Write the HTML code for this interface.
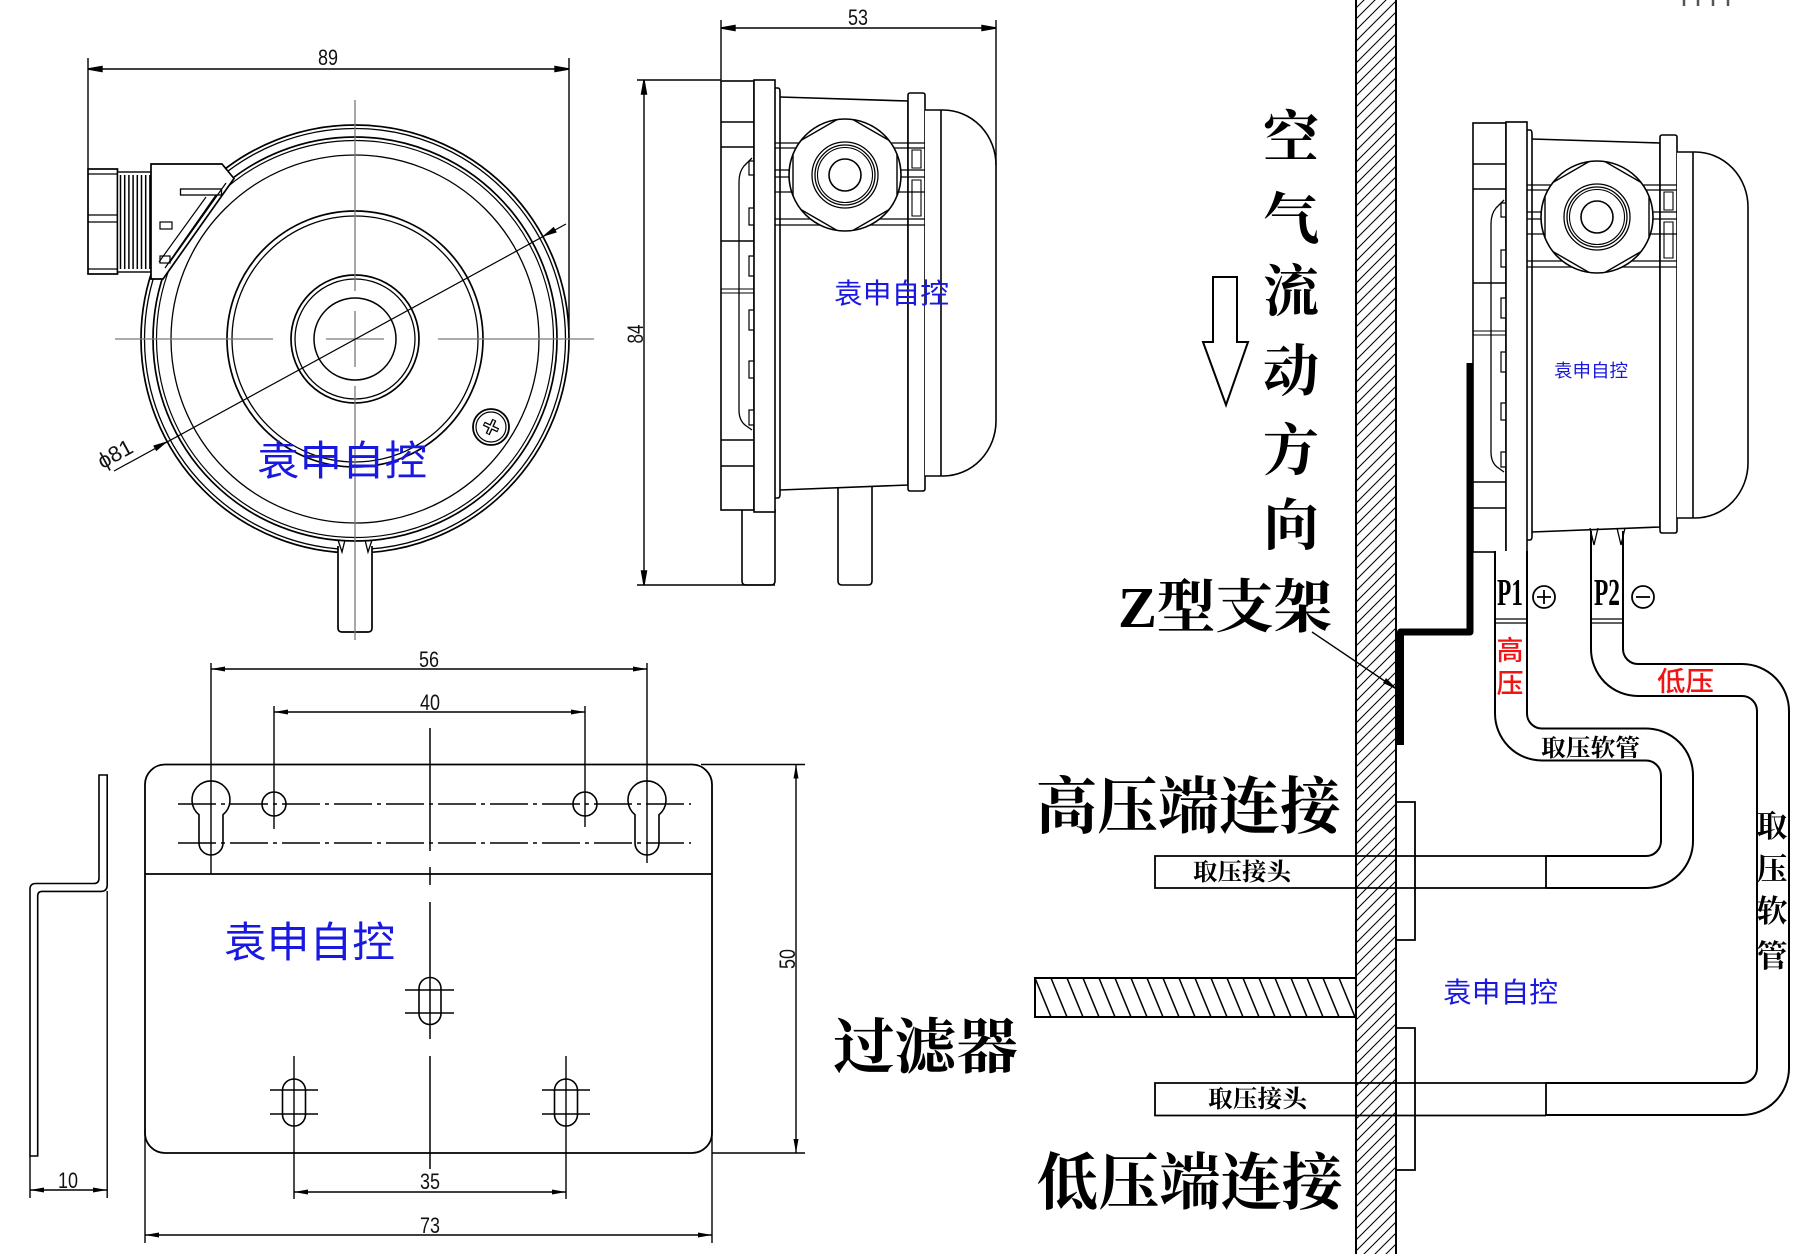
<!DOCTYPE html>
<html><head><meta charset="utf-8">
<style>
html,body{margin:0;padding:0;background:#fff;}
svg{display:block;}
.d{font-family:"Liberation Sans",sans-serif;font-size:22px;fill:#111;}
.big{font-family:"Liberation Serif","Noto Serif CJK SC",serif;font-weight:700;fill:#000;}
.sm{font-family:"Liberation Serif","Noto Serif CJK SC",serif;font-weight:700;fill:#000;}
.wm{font-family:"Liberation Sans","Noto Sans CJK SC",sans-serif;fill:#1818e0;}
.red{font-family:"Liberation Sans","Noto Sans CJK SC",sans-serif;font-weight:500;fill:#f01414;}
</style></head>
<body>
<svg width="1810" height="1254" viewBox="0 0 1810 1254" xmlns="http://www.w3.org/2000/svg">
<defs>
 <pattern id="hw" patternUnits="userSpaceOnUse" width="11" height="11">
  <path d="M0,11 L11,0 M-2,2 L2,-2 M9,13 L13,9" stroke="#000" stroke-width="1.05"/>
 </pattern>
 <pattern id="hf" patternUnits="userSpaceOnUse" x="1035" y="978" width="16" height="39">
  <path d="M0,0 L16,39 M-16,0 L0,39 M16,0 L32,39" stroke="#000" stroke-width="1.5"/>
 </pattern>
 <clipPath id="nutclip"><circle cx="124" cy="95" r="56"/></clipPath>
 <g id="side" fill="none" stroke="#000" stroke-width="1.6">
  <rect x="0" y="1" width="33" height="429" fill="#fff"/>
  <path d="M0,42H33M0,67H33M0,161H33M0,360H33M0,386H33"/>
  <path d="M0,209H33M0,213H33" stroke-width="1.1"/>
  <path d="M31,78 L23,86 Q18,92 18,102 V330 Q18,340 24,345 L31,350" stroke-width="1.3"/>
  <path d="M28,81h5v14h-5zM28,128h5v17h-5zM28,176h5v20h-5zM28,230h5v20h-5zM28,281h5v17h-5zM28,330h5v15h-5z" stroke-width="1.2" fill="#fff"/>
  <rect x="33" y="0" width="21" height="432" fill="#fff"/>
  <path d="M54,8 H57 Q59,8 59,12 V414 Q59,418 57,418 H54"/>
  <path d="M59,17 L187,21 L187,405 L59,410"/>
  <rect x="187" y="13" width="17" height="398" rx="2" fill="#fff"/>
  <path d="M54,63H207M54,68H207M54,90H207M54,97H207M54,112H207M54,139H207M54,145H207" stroke-width="1.3"/>
  <path d="M191,70h9v18h-9zM191,100h9v36h-9z" stroke-width="1.1"/>
  <path d="M204,30 H222 A53,55 0 0 1 275,85 V341 A53,55 0 0 1 222,396 H204" fill="#fff"/>
  <line x1="220" y1="30" x2="220" y2="396"/>
  <circle cx="124" cy="95" r="56" fill="#fff"/>
  <polygon points="124,35 176,65 176,125 124,155 72,125 72,65" clip-path="url(#nutclip)" stroke-width="1.4"/>
  <circle cx="124" cy="95" r="33" stroke-width="1.3"/>
  <circle cx="124" cy="95" r="30" stroke-width="1.3"/>
  <circle cx="124" cy="95" r="27.5" stroke-width="1.1"/>
  <circle cx="124" cy="95" r="16" stroke-width="1.6"/>
 </g>
</defs>

<rect width="1810" height="1254" fill="#fff"/>

<!-- ================= FRONT VIEW ================= -->
<g fill="none" stroke="#000" stroke-width="1.7">
 <circle cx="355" cy="339" r="214"/>
 <circle cx="355" cy="339" r="210.5" stroke-width="1.3"/>
 <circle cx="355" cy="339" r="202"/>
 <circle cx="355" cy="339" r="198.5" stroke-width="1.2"/>
 <circle cx="355" cy="339" r="184" stroke-width="1.3"/>
 <circle cx="355" cy="339" r="128"/>
 <circle cx="355" cy="339" r="123" stroke-width="1.3"/>
 <circle cx="355" cy="339" r="64"/>
 <circle cx="355" cy="339" r="60" stroke-width="1.3"/>
 <circle cx="355" cy="339" r="41" stroke-width="1.5"/>
 <!-- screw -->
 <circle cx="491" cy="427" r="18" stroke-width="1.8"/>
 <circle cx="491" cy="427" r="15" stroke-width="1.2"/>
 <g transform="rotate(25 491 427)">
  <path d="M483,427H499M491,419V435" stroke-width="4.5"/>
  <path d="M484,427H498M491,420V434" stroke="#fff" stroke-width="1.8"/>
 </g>
 <!-- bottom tube -->
 <path d="M338,546 V628 Q338,632 342,632 H368 Q372,632 372,628 V546" fill="#fff"/>
 <path d="M338,540 L342,552 L345,540 M365,540 L368,552 L372,540" stroke-width="1.3"/>
 <!-- connector -->
 <rect x="88" y="169" width="29.5" height="105" fill="#fff"/>
 <path d="M88,174H117.5M88,215H117.5M88,222H117.5M88,269H117.5" stroke-width="1.3"/>
 <rect x="117.5" y="172" width="33.5" height="100" fill="#fff" stroke-width="1.4"/>
 <path d="M120.5,175V269M124.7,175V269M128.9,175V269M133.1,175V269M137.3,175V269M141.5,175V269M145.7,175V269M149.9,175V269" stroke-width="1.5"/>
 <polygon points="151,164 222,164 234,178.5 163,279 151,279" fill="#fff"/>
 <rect x="180.5" y="189" width="41" height="6" stroke-width="1.3"/>
 <path d="M216,195 L165,268 M206,197 L159,262 M226,183 L170,262" stroke-width="1.2"/>
 <rect x="160" y="222" width="12" height="7" stroke-width="1.2"/>
 <rect x="160" y="256" width="10" height="7" stroke-width="1.2"/>
</g>
<!-- center lines -->
<g stroke="#7a7a7a" stroke-width="1.3">
 <path d="M115,339H273M326,339H384M438,339H594"/>
 <path d="M355,100V291M355,311V367M355,386V640"/>
</g>
<!-- dimension 89 -->
<g stroke="#000" stroke-width="1.4" fill="#000">
 <path d="M88,58V169M569,58V330M88,69H569" fill="none"/>
 <polygon points="88,69 102,66.5 102,71.5"/>
 <polygon points="569,69 555,66.5 555,71.5"/>
 <!-- diameter -->
 <path d="M114,471 L566,224" fill="none" stroke-width="1.2"/>
 <polygon points="167.2,441.6 156.3,450.9 153.5,445.7" stroke-width="0.5"/>
 <polygon points="542.8,236.4 556.5,232.3 553.7,227.1" stroke-width="0.5"/>
</g>
<text class="d" x="328" y="65" text-anchor="middle" textLength="20" lengthAdjust="spacingAndGlyphs">89</text>
<text class="d" transform="translate(118.6,460.5) rotate(-28.65)" text-anchor="middle" font-size="19">ϕ81</text>
<text class="wm" x="257" y="475" font-size="41" textLength="170" lengthAdjust="spacingAndGlyphs">袁申自控</text>

<!-- ================= SIDE VIEW (left) ================= -->
<g fill="none" stroke="#000" stroke-width="1.6">
 <path d="M742,509 V581 Q742,585 746,585 H771 Q775,585 775,581 V509" fill="#fff"/>
 <path d="M838,487 V581 Q838,585 842,585 H868 Q872,585 872,581 V487" fill="#fff"/>
</g>
<use href="#side" transform="translate(721,80)"/>
<g stroke="#000" stroke-width="1.4" fill="#000">
 <path d="M721,20V80M996,20V165M721,28H996M637,80H721M644,80V585M637,585H775" fill="none"/>
 <polygon points="721,28 735,25.5 735,30.5"/>
 <polygon points="996,28 982,25.5 982,30.5"/>
 <polygon points="644,80 641.5,94 646.5,94"/>
 <polygon points="644,585 641.5,571 646.5,571"/>
</g>
<text class="d" x="858" y="25" text-anchor="middle" textLength="20" lengthAdjust="spacingAndGlyphs">53</text>
<text class="d" transform="translate(643,334) rotate(-90)" text-anchor="middle" textLength="19" lengthAdjust="spacingAndGlyphs">84</text>
<text class="wm" x="834" y="303" font-size="28" textLength="115" lengthAdjust="spacingAndGlyphs">袁申自控</text>

<!-- ================= BRACKET ================= -->
<g fill="none" stroke="#000" stroke-width="1.8">
 <rect x="145" y="764.5" width="567" height="388.5" rx="20"/>
 <path d="M145,874H712"/>
 <path d="M178,804H691M178,843H691" stroke-width="1.5" stroke-dasharray="38 5 4 5"/>
 <path d="M199,814.7 A19,19 0 1 1 223,814.7 L223,843 A12,12 0 0 1 199,843 Z" stroke-width="1.6"/>
 <path d="M635,814.7 A19,19 0 1 1 659,814.7 L659,843 A12,12 0 0 1 635,843 Z" stroke-width="1.6"/>
 <circle cx="274" cy="804" r="12" stroke-width="1.6"/>
 <circle cx="585" cy="804" r="12" stroke-width="1.6"/>
 <path d="M430,728V851M430,867V885M430,902V1039M430,1056V1169" stroke-width="1.5"/>
 <rect x="419" y="977.5" width="22" height="47" rx="11" stroke-width="1.6"/>
 <path d="M405,990H454M405,1013H454" stroke-width="1.5"/>
 <rect x="282.5" y="1079" width="23" height="47" rx="11.5" stroke-width="1.6"/>
 <rect x="554.5" y="1079" width="23" height="47" rx="11.5" stroke-width="1.6"/>
 <path d="M270,1090H318M270,1114H318M542,1090H590M542,1114H590" stroke-width="1.5"/>
 <path d="M294,1056V1199M566,1056V1199" stroke-width="1.4"/>
 <!-- ext lines -->
 <path d="M211,663V874M647,663V863M274,706V829M585,706V827" stroke-width="1.4"/>
 <path d="M145,1130V1243M712,1130V1243M701,764.5H805M712,1153H805" stroke-width="1.4"/>
 <!-- dims -->
 <path d="M211,669H647M274,712H585M294,1192H566M145,1235H712M796,764.5V1153M30,1190H107" stroke-width="1.4"/>
 <!-- Z profile -->
 <path d="M99,775 V878 Q99,883.5 94,883.5 H36 Q30,883.5 30,889 V1156 H37.7 V896 Q37.7,891.4 42,891.4 H101 Q107.2,891.4 107.2,885 V775 Z" stroke-width="1.6"/>
 <path d="M30,1156V1198M107.2,891V1198" stroke-width="1.4"/>
</g>
<g fill="#000">
 <polygon points="211,669 225,666.5 225,671.5"/><polygon points="647,669 633,666.5 633,671.5"/>
 <polygon points="274,712 288,709.5 288,714.5"/><polygon points="585,712 571,709.5 571,714.5"/>
 <polygon points="294,1192 308,1189.5 308,1194.5"/><polygon points="566,1192 552,1189.5 552,1194.5"/>
 <polygon points="145,1235 159,1232.5 159,1237.5"/><polygon points="712,1235 698,1232.5 698,1237.5"/>
 <polygon points="796,764.5 793.5,778.5 798.5,778.5"/><polygon points="796,1153 793.5,1139 798.5,1139"/>
 <polygon points="30,1190 44,1187.5 44,1192.5"/><polygon points="107,1190 93,1187.5 93,1192.5"/>
</g>
<text class="d" x="429" y="667" text-anchor="middle" textLength="20" lengthAdjust="spacingAndGlyphs">56</text>
<text class="d" x="430" y="710" text-anchor="middle" textLength="20" lengthAdjust="spacingAndGlyphs">40</text>
<text class="d" x="430" y="1189" text-anchor="middle" textLength="20" lengthAdjust="spacingAndGlyphs">35</text>
<text class="d" x="430" y="1233" text-anchor="middle" textLength="20" lengthAdjust="spacingAndGlyphs">73</text>
<text class="d" x="68" y="1188" text-anchor="middle" textLength="20" lengthAdjust="spacingAndGlyphs">10</text>
<text class="d" transform="translate(795,959) rotate(-90)" text-anchor="middle" textLength="20" lengthAdjust="spacingAndGlyphs">50</text>
<text class="wm" x="224" y="957" font-size="42" textLength="171" lengthAdjust="spacingAndGlyphs">袁申自控</text>

<!-- ================= RIGHT INSTALLATION ================= -->
<!-- wall -->
<rect x="1356" y="0" width="40" height="1254" fill="url(#hw)"/>
<path d="M1356,0V1254M1396,0V1254" stroke="#000" stroke-width="2"/>
<!-- filter -->
<rect x="1035" y="978" width="321" height="39" fill="url(#hf)" stroke="#000" stroke-width="2"/>
<!-- flanges -->
<path d="M1396,802H1415V940H1396M1396,1028H1415V1170H1396" fill="none" stroke="#000" stroke-width="1.8"/>
<!-- pressure taps -->
<g fill="none" stroke="#000" stroke-width="1.8">
 <path d="M1546,856H1155V888H1546M1546,856V888"/>
 <path d="M1546,1083H1155V1115.5H1546M1546,1083V1115.5"/>
</g>
<!-- arrow -->
<polygon points="1213,277 1237,277 1237,342 1248,342 1226,405 1203,342 1213,342" fill="#fff" stroke="#000" stroke-width="2"/>
<!-- right device -->
<use href="#side" transform="translate(1473,122)"/>
<!-- hoses -->
<g fill="none" stroke-linejoin="round">
 <path d="M1511,551 V713.5 A31,31 0 0 0 1542,744.5 H1646 A31,31 0 0 1 1677,775.5 V841 A31,31 0 0 1 1646,872 H1546" stroke="#000" stroke-width="34"/>
 <path d="M1511,551 V713.5 A31,31 0 0 0 1542,744.5 H1646 A31,31 0 0 1 1677,775.5 V841 A31,31 0 0 1 1646,872 H1545" stroke="#fff" stroke-width="30"/>
 <path d="M1607,531 V649 A31,31 0 0 0 1638,680 H1742 A31,31 0 0 1 1773,711 V1068 A31,31 0 0 1 1742,1099 H1546" stroke="#000" stroke-width="34"/>
 <path d="M1607,531 V649 A31,31 0 0 0 1638,680 H1742 A31,31 0 0 1 1773,711 V1068 A31,31 0 0 1 1742,1099 H1545" stroke="#fff" stroke-width="30"/>
</g>
<path d="M1546,856V888M1546,1083V1115.5" stroke="#000" stroke-width="1.8"/>
<path d="M1495,619H1527M1495,623H1527M1591,619H1623M1591,623H1623" stroke="#000" stroke-width="1.3"/>
<path d="M1590,528 L1594,545 L1598,528 M1617,528 L1621,545 L1625,528" fill="none" stroke="#000" stroke-width="1.3"/>
<!-- Z bracket -->
<path d="M1470,363 V632 H1400.5 V745" fill="none" stroke="#000" stroke-width="7" stroke-linejoin="round"/>
<!-- leader -->
<path d="M1312,632 L1398,690" stroke="#000" stroke-width="1.4"/>
<polygon points="1398,690 1386,678 1383,683" fill="#000"/>

<!-- P1 P2 -->
<text class="big" x="1497" y="605" font-size="38" textLength="26" lengthAdjust="spacingAndGlyphs">P1</text>
<text class="big" x="1594" y="605" font-size="38" textLength="26" lengthAdjust="spacingAndGlyphs">P2</text>
<g fill="none" stroke="#000" stroke-width="1.8">
 <circle cx="1544" cy="597" r="11"/>
 <path d="M1537,597H1551M1544,590V604"/>
 <circle cx="1643" cy="597" r="11"/>
 <path d="M1636,597H1650"/>
</g>

<!-- labels -->
<text class="red" x="1510" y="660" font-size="27" text-anchor="middle">高</text>
<text class="red" x="1510" y="693" font-size="27" text-anchor="middle">压</text>
<text class="red" x="1657" y="691" font-size="27" textLength="57" lengthAdjust="spacingAndGlyphs">低压</text>
<text class="sm" x="1541" y="756" font-size="24" textLength="99" lengthAdjust="spacingAndGlyphs">取压软管</text>
<text class="sm" x="1193" y="880" font-size="24" textLength="98" lengthAdjust="spacingAndGlyphs">取压接头</text>
<text class="sm" x="1208" y="1107" font-size="24" textLength="99" lengthAdjust="spacingAndGlyphs">取压接头</text>
<text class="sm" x="1772" y="837" font-size="31" text-anchor="middle">取</text>
<text class="sm" x="1772" y="880" font-size="31" text-anchor="middle">压</text>
<text class="sm" x="1772" y="922" font-size="31" text-anchor="middle">软</text>
<text class="sm" x="1772" y="967" font-size="31" text-anchor="middle">管</text>

<text class="big" x="1291" y="157" font-size="56" text-anchor="middle">空</text>
<text class="big" x="1291" y="239" font-size="56" text-anchor="middle">气</text>
<text class="big" x="1291" y="311" font-size="56" text-anchor="middle">流</text>
<text class="big" x="1291" y="391" font-size="56" text-anchor="middle">动</text>
<text class="big" x="1291" y="470" font-size="56" text-anchor="middle">方</text>
<text class="big" x="1291" y="545" font-size="56" text-anchor="middle">向</text>

<text class="big" x="1118" y="627" font-size="58" textLength="214" lengthAdjust="spacingAndGlyphs">Z型支架</text>
<text class="big" x="1036" y="828" font-size="62" textLength="305" lengthAdjust="spacingAndGlyphs">高压端连接</text>
<text class="big" x="1037" y="1204" font-size="62" textLength="306" lengthAdjust="spacingAndGlyphs">低压端连接</text>
<text class="big" x="833" y="1068" font-size="60" textLength="185" lengthAdjust="spacingAndGlyphs">过滤器</text>

<text class="wm" x="1554" y="377" font-size="18" textLength="74" lengthAdjust="spacingAndGlyphs">袁申自控</text>
<text class="wm" x="1443" y="1002" font-size="28" textLength="115" lengthAdjust="spacingAndGlyphs">袁申自控</text>

<!-- top-right residual marks -->
<path d="M1684,0V6M1698,0V6M1713,0V6M1728,0V6" stroke="#555" stroke-width="2.5"/>
</svg>
</body></html>
